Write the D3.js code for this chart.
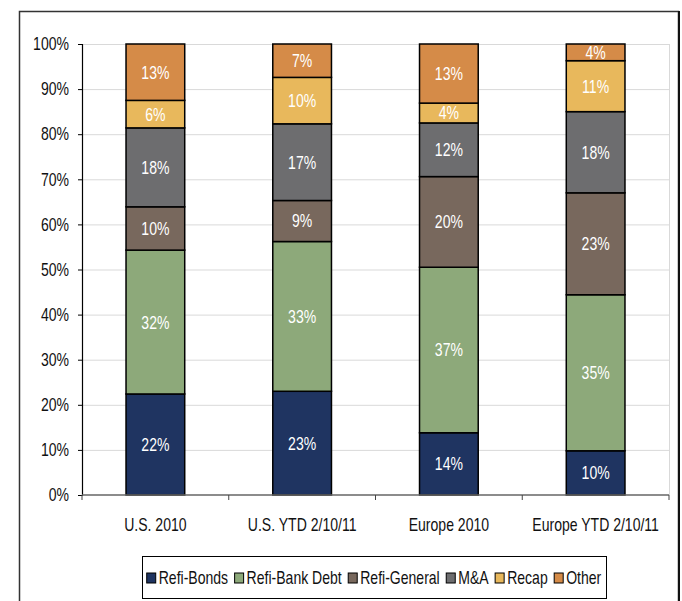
<!DOCTYPE html>
<html>
<head>
<meta charset="utf-8">
<script src="https://cdn.jsdelivr.net/npm/d3@7"></script>
<style>
  html, body { margin: 0; padding: 0; background: #fff; }
  svg { display: block; }
  text { font-family: "Liberation Sans", Arial, sans-serif; }
</style>
</head>
<body>
<script>
// Use of proceeds, share of volume per period (%)
const categories = ["U.S. 2010", "U.S. YTD 2/10/11", "Europe 2010", "Europe YTD 2/10/11"];
const seriesNames = ["Refi-Bonds", "Refi-Bank Debt", "Refi-General", "M&A", "Recap", "Other"];
const refiBonds    = [22.4, 23.0, 13.8,  9.8];
const refiBankDebt = [31.9, 33.2, 36.7, 34.6];
const refiGeneral  = [ 9.6,  9.1, 20.1, 22.6];
const mAndA        = [17.5, 17.0, 11.9, 18.0];
const recap        = [ 6.1, 10.3,  4.4, 11.3];
const other        = [12.5,  7.4, 13.1,  3.7];
const yTicks = [0, 10, 20, 30, 40, 50, 60, 70, 80, 90, 100];
const colors = ["#1f3461", "#8da97a", "#78685d", "#6d6d6f", "#e8b85c", "#d58b48"];

const W = 682, H = 601;
const margin = { left: 82, right: 13, top: 44, bottom: 106 };
const NARROW = 0.78;   // horizontal squeeze for a condensed look
const FS = 18;

// squeeze each text horizontally about its own anchor point
function narrow(sel) {
  sel.each(function () {
    const t = d3.select(this);
    const x0 = +t.attr("x") || 0;
    const y0 = +t.attr("y") || 0;
    t.attr("x", 0).attr("y", 0)
     .attr("transform", `translate(${x0},${y0}) scale(${NARROW},1)`);
    this.__w = this.getComputedTextLength() * NARROW;
  });
  return sel;
}

const svg = d3.select("body").append("svg").attr("width", W).attr("height", H);

// outer frame
svg.append("rect").attr("x", 19.5).attr("y", 11.5).attr("width", 659).attr("height", 620)
  .attr("fill", "none").attr("stroke", "#333").attr("stroke-width", 1.5);
svg.append("line").attr("x1", 679).attr("x2", 679).attr("y1", 11).attr("y2", H)
  .attr("stroke", "#111").attr("stroke-width", 2);

const x = d3.scaleBand().domain(categories)
  .range([margin.left, W - margin.right])
  .paddingInner(0.6).paddingOuter(0.3);
const y = d3.scaleLinear().domain([0, 100]).range([H - margin.bottom, margin.top]);

const rows = categories.map((c, i) => ({
  cat: c,
  "Refi-Bonds": refiBonds[i],
  "Refi-Bank Debt": refiBankDebt[i],
  "Refi-General": refiGeneral[i],
  "M&A": mAndA[i],
  "Recap": recap[i],
  "Other": other[i]
}));
const stacked = d3.stack().keys(seriesNames)(rows);

// gridlines
svg.append("g").selectAll("line").data(yTicks.filter(t => t > 0)).join("line")
  .attr("x1", margin.left).attr("x2", W - margin.right)
  .attr("y1", d => y(d) + 0.5).attr("y2", d => y(d) + 0.5)
  .attr("stroke", "#d9d9d9").attr("stroke-width", 1);
svg.append("line")
  .attr("x1", W - margin.right + 0.5).attr("x2", W - margin.right + 0.5)
  .attr("y1", y(100)).attr("y2", y(0))
  .attr("stroke", "#d9d9d9");

// bars
const layers = svg.append("g").selectAll("g").data(stacked).join("g")
  .attr("fill", (d, i) => colors[i]);
layers.selectAll("rect").data(d => d).join("rect")
  .attr("x", d => x(d.data.cat))
  .attr("width", x.bandwidth())
  .attr("y", d => y(d[1]))
  .attr("height", d => y(d[0]) - y(d[1]))
  .attr("stroke", "#000").attr("stroke-width", 1.5);

// value labels
stacked.forEach((layer) => {
  svg.append("g").selectAll("text").data(layer).join("text")
    .attr("x", d => x(d.data.cat) + x.bandwidth() / 2)
    .attr("y", d => (y(d[0]) + y(d[1])) / 2)
    .attr("dy", "0.36em")
    .attr("text-anchor", "middle")
    .attr("fill", "#fff")
    .attr("font-size", FS)
    .text(d => Math.round(d[1] - d[0]) + "%")
    .call(narrow);
});

// y axis
const yAxis = d3.axisLeft(y).tickValues(yTicks).tickFormat(d => d + "%").tickSize(4).tickPadding(9);
const gy = svg.append("g").attr("transform", `translate(${margin.left},0)`).call(yAxis);
gy.select(".domain").attr("stroke", "#000").attr("stroke-width", 1.2);
gy.selectAll(".tick line").attr("stroke", "#000");
gy.selectAll(".tick text").attr("font-size", FS).attr("fill", "#111")
  .style("font-family", "'Liberation Sans', Arial, sans-serif")
  .call(narrow);

// x axis
const xBase = y(0);
svg.append("line").attr("x1", margin.left).attr("x2", W - margin.right)
  .attr("y1", xBase).attr("y2", xBase).attr("stroke", "#666").attr("stroke-width", 1.5);
const bounds = categories.map(c => x(c) - x.step() * x.paddingInner() / 2);
bounds.push(W - margin.right);
svg.append("g").selectAll("line").data(bounds).join("line")
  .attr("x1", d => d).attr("x2", d => d)
  .attr("y1", xBase).attr("y2", xBase + 5)
  .attr("stroke", "#444");
svg.append("g").selectAll("text").data(categories).join("text")
  .attr("x", d => x(d) + x.bandwidth() / 2)
  .attr("y", xBase + 36)
  .attr("text-anchor", "middle")
  .attr("font-size", FS).attr("fill", "#111")
  .text(d => d)
  .call(narrow);

// legend
const lg = svg.append("g");
const box = { x: 142, y: 556, w: 464, h: 42 };
lg.append("rect").attr("x", box.x + 0.5).attr("y", box.y + 0.5).attr("width", box.w).attr("height", box.h)
  .attr("fill", "#fff").attr("stroke", "#000").attr("stroke-width", 1);
const items = lg.selectAll("g").data(seriesNames).join("g");
items.append("rect").attr("width", 9).attr("height", 10).attr("y", -11)
  .attr("fill", (d, i) => colors[i]).attr("stroke", "#000").attr("stroke-width", 1);
items.append("text").attr("x", 12).attr("y", 0).attr("font-size", FS).attr("fill", "#111")
  .text(d => d).call(narrow);
const GAP = 6.5;
let cx = 0;
const offsets = [];
items.each(function () {
  offsets.push(cx);
  const t = d3.select(this).select("text").node();
  cx += 12 + t.__w + GAP;
});
const total = cx - GAP;
const startX = box.x + (box.w - total) / 2;
items.attr("transform", (d, i) => `translate(${startX + offsets[i]},${box.y + 28})`);
</script>
</body>
</html>
